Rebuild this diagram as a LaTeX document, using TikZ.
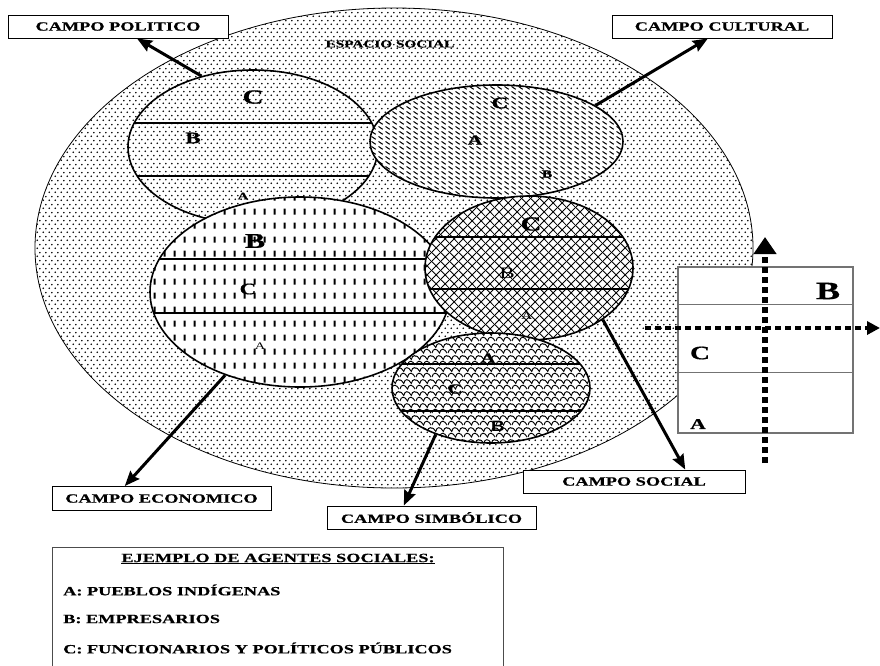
\documentclass[tikz,border=0pt]{standalone}
\usepackage{fontspec}
\newfontfamily\wf{Liberation Serif}[FakeStretch=1.45, BoldFeatures={FakeBold=0.6}]
\newfontfamily\wsf{Liberation Sans}[FakeStretch=1.25]
\usetikzlibrary{patterns.meta,shapes.geometric,arrows.meta,calc}

\tikzdeclarepattern{name=pdots, type=uncolored,
  bottom left={(0pt,0pt)}, top right={(6pt,8pt)}, tile size={(6pt,8pt)},
  code={\fill (1.5pt,2pt) circle (1pt); \fill (4.5pt,6pt) circle (1pt);}}
\tikzdeclarepattern{name=pdiag, type=uncolored,
  bottom left={(0pt,0pt)}, top right={(7pt,5pt)}, tile size={(7pt,5pt)},
  code={\draw[line width=1.2pt] (0.6pt,4.2pt) -- (5.4pt,0.8pt);}}
\tikzdeclarepattern{name=pvdash, type=uncolored,
  bottom left={(0pt,0pt)}, top right={(10pt,14pt)}, tile size={(10pt,14pt)},
  code={\draw[line width=2.1pt] (5pt,3.5pt) -- (5pt,10pt);}}
\tikzdeclarepattern{name=pcross, type=uncolored,
  bottom left={(0pt,0pt)}, top right={(9pt,9pt)}, tile size={(9pt,9pt)},
  code={\draw[line width=0.95pt] (-1pt,-1pt) -- (10pt,10pt) (-1pt,10pt) -- (10pt,-1pt);}}
\tikzdeclarepattern{name=pscale, type=uncolored,
  bottom left={(0pt,0pt)}, top right={(16pt,12pt)}, tile size={(16pt,12pt)},
  code={\draw[line width=1pt] (0pt,1pt) .. controls (1pt,6.5pt) and (5pt,6.5pt) .. (8pt,1pt)
          .. controls (9pt,6.5pt) and (13pt,6.5pt) .. (16pt,1pt);
        \draw[line width=1pt] (-4pt,7pt) .. controls (-3pt,12.5pt) and (1pt,12.5pt) .. (4pt,7pt)
          .. controls (5pt,12.5pt) and (9pt,12.5pt) .. (12pt,7pt)
          .. controls (13pt,12.5pt) and (17pt,12.5pt) .. (20pt,7pt);
        \draw[line width=1pt] (-4pt,-5pt) .. controls (-3pt,0.5pt) and (1pt,0.5pt) .. (4pt,-5pt)
          .. controls (5pt,0.5pt) and (9pt,0.5pt) .. (12pt,-5pt)
          .. controls (13pt,0.5pt) and (17pt,0.5pt) .. (20pt,-5pt);}}

\begin{document}
\begin{tikzpicture}[x=1pt,y=-1pt,
  lbl/.style={draw=black, line width=0.9pt, fill=white, minimum height=23pt, inner sep=0pt,
              font=\wf\bfseries\fontsize{12.6}{14}\selectfont},
  lgt/.style={inner sep=0pt, font=\wf\bfseries\fontsize{12.6}{14}\selectfont},
  fld/.style={ellipse, draw=black, line width=1.6pt, inner sep=0pt, preaction={fill=white},
              pattern color=black},
  arr/.style={line width=3pt, -{Stealth[length=15pt,width=12pt,inset=2pt]}},
  dotarr/.style={dash pattern=on 6pt off 4pt},
  L/.style={inner sep=0pt, font=\wf\bfseries\fontsize{#1}{#1}\selectfont},
  Lr/.style={inner sep=0pt, font=\wf\fontsize{#1}{#1}\selectfont},
  Ls/.style={inner sep=0pt, font=\wsf\bfseries\fontsize{#1}{#1}\selectfont},
  band/.style={line width=#1}]
\useasboundingbox (0,0) rectangle (880,665);

% espacio social
\node[fld, line width=0.8pt, pattern=pdots, minimum width=718pt, minimum height=480pt] (esp) at (394,248) {};
\node[L=10.5] (esplbl) at (390,44) {ESPACIO SOCIAL};

% campo politico
\node[fld, pattern=pdots, minimum width=250pt, minimum height=154pt] (pol) at (253,147) {};
\begin{scope}
  \clip (253,147) ellipse [x radius=125, y radius=77];
  \draw[band=2.2pt] (100,123) -- (400,123);
  \draw[band=2.2pt] (100,176) -- (400,176);
\end{scope}
\node[L=20] (polc) at (253,97) {C};
\node[L=16] (polb) at (193,138) {B};
\node[L=10] (pola) at (243,196) {A};

% campo cultural
\node[fld, pattern=pdiag, minimum width=253pt, minimum height=113pt] (cul) at (496.5,141.5) {};
\node[L=16] (culc) at (500,103) {C};
\node[L=14] (cula) at (475,140) {A};
\node[L=11] (culb) at (547,174) {B};

% campo economico
\node[fld, pattern=pvdash, minimum width=300pt, minimum height=190pt] (eco) at (300,292) {};
\begin{scope}
  \clip (300,292) ellipse [x radius=150, y radius=95];
  \draw[band=2.6pt] (140,259) -- (460,259);
  \draw[band=2.6pt] (140,313) -- (460,313);
\end{scope}
\node[L=21] (ecob) at (255,241) {B};
\node[L=16] (ecoc) at (248,289) {C};
\node[Lr=10] (ecoa) at (260,346) {A};

% campo social
\node[fld, pattern=pcross, minimum width=208pt, minimum height=144pt] (soc) at (529,268) {};
\begin{scope}
  \clip (529,268) ellipse [x radius=104, y radius=72];
  \draw[band=1.9pt] (420,237) -- (640,237);
  \draw[band=1.9pt] (420,289) -- (640,289);
\end{scope}
\node[L=20] (socc) at (531,224) {C};
\node[Lr=16] (socb) at (507,273) {B};
\node[Lr=11] (soca) at (527,316) {A};

% campo simbolico
\node[fld, pattern=pscale, minimum width=198pt, minimum height=110pt] (sim) at (491,388) {};
\begin{scope}
  \clip (491,388) ellipse [x radius=99, y radius=55];
  \draw[band=1.5pt] (380,364) -- (600,364);
  \draw[band=1.5pt] (380,411) -- (600,411);
\end{scope}
\node[L=14] (sima) at (488,358) {A};
\node[L=14] (simc) at (455,389) {C};
\node[Ls=15] (simb) at (498,426) {B};

% label boxes
\node[lbl, minimum width=220pt] (lpol) at (118,26.5) {CAMPO POLITICO};
\node[lbl, minimum width=220pt] (lcul) at (722,26.5) {CAMPO CULTURAL};
\node[lbl, minimum width=219pt, minimum height=24pt] (leco) at (161.5,498.5) {CAMPO ECONOMICO};
\node[lbl, minimum width=209pt] (lsim) at (431.5,517.5) {CAMPO SIMBÓLICO};
\node[lbl, minimum width=222pt] (lsoc) at (634,481.5) {CAMPO SOCIAL};

% arrows
\draw[arr] (pol.126) -- ($(lpol.south west)!0.586!(lpol.south east)$);
\draw[arr] (cul.20) -- ($(lcul.south west)!0.436!(lcul.south east)$);
\draw[arr] (eco.228) -- ($(leco.north west)!0.333!(leco.north east)$);
\draw[arr] (sim.220) -- ($(lsim.north west)!0.368!(lsim.north east)$);
\draw[arr] (soc.325) -- ($(lsoc.north west)!0.73!(lsoc.north east)$);

% right box
\node[draw=black!55, line width=1.2pt, fill=white, minimum width=175pt, minimum height=166pt, inner sep=0pt] (rbox) at (765.5,350) {};
\draw[black!55, line width=1.2pt] ($(rbox.north west)+(0,38)$) -- ($(rbox.north east)+(0,38)$);
\draw[black!55, line width=1.2pt] ($(rbox.north west)+(0,106)$) -- ($(rbox.north east)+(0,106)$);
\node[L=25] (rbb) at (828,291) {B};
\node[L=19] (rbc) at (700,353) {C};
\node[L=15] (rba) at (698,424) {A};
\coordinate (hs) at (645,328);
\coordinate (he) at (880,328);
\coordinate (vs) at (765,463);
\coordinate (ve) at (765,237);
\draw[dotarr, line width=4pt, -{Triangle[length=13pt,width=13pt]}] (hs) -- (he);
\draw[dotarr, line width=6.5pt, -{Triangle[length=17pt,width=22pt]}] (vs) -- (ve);

% legend
\node[draw=black!70, line width=1pt, minimum width=451pt, minimum height=140pt, inner sep=0pt, anchor=north west] (leg) at (52,547) {};
\node[lgt] (legt) at (278,559) {\underline{EJEMPLO DE AGENTES SOCIALES:}};
\node[lgt, anchor=west] (lega) at (63,590) {A: PUEBLOS INDÍGENAS};
\node[lgt, anchor=west] (legb) at (63,619) {B: EMPRESARIOS};
\node[lgt, anchor=west] (legc) at (63,648) {C: FUNCIONARIOS Y POLÍTICOS PÚBLICOS};
\end{tikzpicture}
\end{document}
